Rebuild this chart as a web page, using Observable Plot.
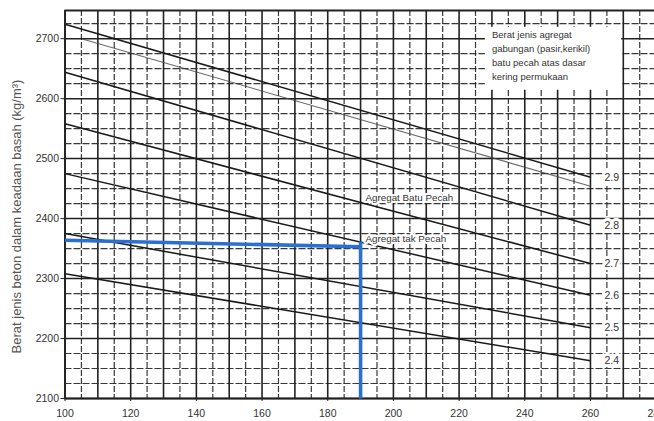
<!DOCTYPE html>
<html>
<head>
<meta charset="utf-8">
<script src="https://cdn.jsdelivr.net/npm/d3@7"></script>
<script src="https://cdn.jsdelivr.net/npm/@observablehq/plot@0.6"></script>
<style>
  html, body { margin: 0; padding: 0; background: #fff; }
  svg { display: block; }
</style>
</head>
<body>
<div id="chart"></div>
<script>
// ---- data ----
const sgLabels = ["2.9", "2.8", "2.7", "2.6", "2.5", "2.4"];
const waterStart = 100;
const waterEnd = 260;
const densityStart = [2724, 2644, 2558, 2475, 2375, 2308];
const densityEnd   = [2469, 2389, 2325, 2272, 2218, 2163];
// faint duplicate stroke below the 2.9 curve in the scan
const faintLine = {x1: 105, y1: 2700, x2: 260, y2: 2454};

const xTicks = [100, 120, 140, 160, 180, 200, 220, 240, 260, 280];
const yTicks = [2100, 2200, 2300, 2400, 2500, 2600, 2700];

const curveLabels = ["Agregat Batu Pecah", "Agregat tak Pecah"];
const legendLines = ["Berat jenis agregat", "gabungan (pasir,kerikil)", "batu pecah atas dasar", "kering permukaan"];
const yLabel = "Berat jenis beton dalam keadaan basah (kg/m³)";

// reading example (blue)
const readWater = 190;
const readDensityLeft = 2364;
const readDensityRight = 2353;
const readDensityBottom = 2100;

// ---- build ----
const lines = sgLabels.map((s, i) => ({s, x1: waterStart, y1: densityStart[i], x2: waterEnd, y2: densityEnd[i]}));
const xMajor = d3.range(100, 281, 10);
const xMinor = d3.range(105, 281, 10);
const yMajor = d3.range(2100, 2701, 100);
const yMinor = d3.range(2125, 2750, 25).filter(v => v % 100 !== 0);
const yTop = 2747;

const gridColor = "#222";

const chart = Plot.plot({
  width: 654,
  height: 421,
  marginLeft: 64.5,
  marginRight: 0,
  marginTop: 10,
  marginBottom: 23,
  style: {fontFamily: "Liberation Sans, Arial, sans-serif", fontSize: "10px", color: "#333", background: "#fff"},
  x: {domain: [100, 279.5]},
  y: {domain: [2100, yTop]},
  marks: [
    // grid
    Plot.ruleY(yMinor, {stroke: gridColor, strokeWidth: 1.2, strokeDasharray: "7,2", strokeOpacity: 0.9}),
    Plot.ruleY(yMajor, {stroke: gridColor, strokeWidth: 1.5}),
    Plot.ruleX(xMinor, {stroke: gridColor, strokeWidth: 1.2, strokeDasharray: "6,2", strokeOpacity: 0.9}),
    Plot.ruleX(xMajor, {stroke: gridColor, strokeWidth: 1.6}),
    // frame
    Plot.ruleY([yTop], {stroke: "#222", strokeWidth: 1.8}),
    Plot.ruleY([2100], {stroke: "#222", strokeWidth: 1.8}),
    Plot.ruleX([100], {stroke: "#222", strokeWidth: 1.8}),
    // legend box
    Plot.rect([legendLines], {x1: 228, x2: 269.5, y1: 2614, y2: 2719, fill: "white"}),
    Plot.text(legendLines, {x: 230, y: (d, i) => 2706 - i * 23.5, text: d => d, textAnchor: "start", fontSize: 9.5, fill: "#333"}),
    // curves
    Plot.link([faintLine], {x1: "x1", y1: "y1", x2: "x2", y2: "y2", stroke: "#444", strokeWidth: 1.1, strokeOpacity: 0.8}),
    Plot.link(lines, {x1: "x1", y1: "y1", x2: "x2", y2: "y2", stroke: "#1a1a1a", strokeWidth: 1.5}),
    // curve labels
    Plot.text(lines, {x: 266.5, y: "y2", text: "s", fontSize: 10.5, fill: "#333", stroke: "white", strokeWidth: 6}),
    Plot.text(curveLabels, {x: 191.5, y: (d, i) => i === 0 ? 2435 : 2367, text: d => d, textAnchor: "start", fontSize: 9.8, fill: "#333", stroke: "white", strokeWidth: 4}),
    // blue reading lines
    Plot.link([{x1: 100, y1: readDensityLeft, x2: readWater, y2: readDensityRight}], {x1: "x1", y1: "y1", x2: "x2", y2: "y2", stroke: "#2a6fd2", strokeWidth: 3.6}),
    Plot.link([{x1: readWater, y1: readDensityBottom, x2: readWater, y2: readDensityLeft - 2}], {x1: "x1", y1: "y1", x2: "x2", y2: "y2", stroke: "#2a6fd2", strokeWidth: 3.6}),
    // axes
    Plot.axisY(yTicks, {tickSize: 4, tickPadding: 2, fontSize: 10.5, fill: "#333", stroke: "#222", label: null, tickFormat: d => String(d)}),
    Plot.axisX(xTicks, {tickSize: 3, tickPadding: 8, fontSize: 10.5, fill: "#333", stroke: "#222", label: null, tickFormat: d => String(d)}),
    // y label
    Plot.text([yLabel], {frameAnchor: "left", rotate: -90, dx: -48, dy: 12, textAnchor: "middle", fontSize: 13, fill: "#555", text: d => d})
  ]
});
document.getElementById("chart").appendChild(chart);
</script>
</body>
</html>
